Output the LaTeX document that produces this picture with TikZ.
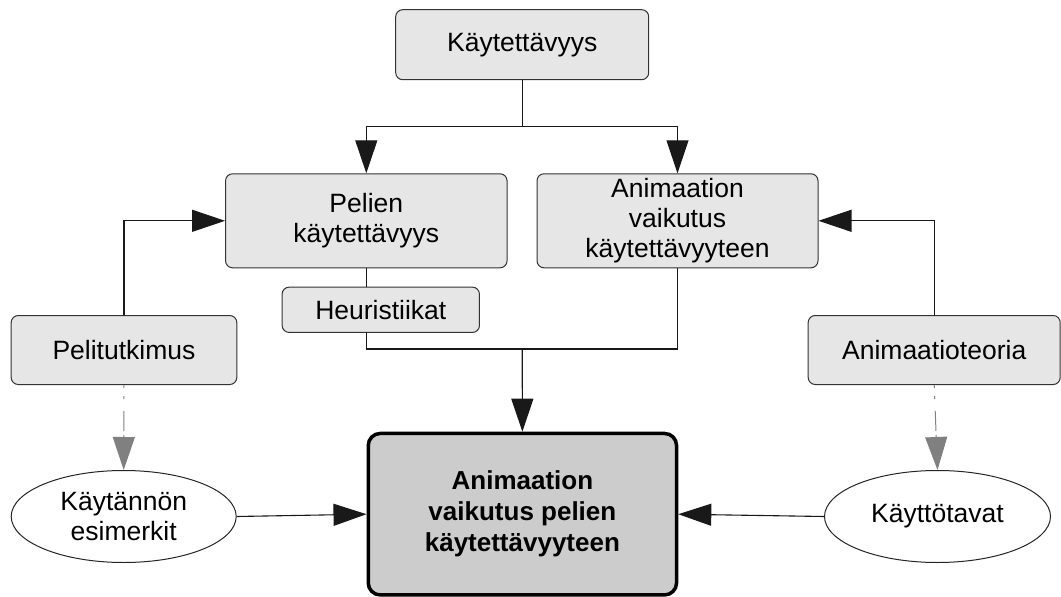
\documentclass[tikz,border=0pt]{standalone}
\usepackage{fontspec}
\setmainfont{Liberation Sans}
\usetikzlibrary{arrows.meta,shapes.geometric}
\definecolor{boxfill}{HTML}{E6E6E6}
\definecolor{mainfill}{HTML}{CCCCCC}
\definecolor{boxline}{HTML}{333333}
\definecolor{dashgray}{HTML}{808080}
\begin{document}
\begin{tikzpicture}[x=1pt,y=-1pt,
  every node/.style={font=\fontsize{26.5}{30}\selectfont, align=center, inner sep=0pt},
  gbox/.style={rectangle, draw=boxline, fill=boxfill, line width=1pt, rounded corners=7pt},
  mainbox/.style={rectangle, draw=black, fill=mainfill, line width=3.5pt, rounded corners=12pt,
    font=\fontsize{26}{31}\selectfont\bfseries},
  oval/.style={ellipse, draw=black!85, line width=1pt, fill=white},
  conn/.style={draw=black!90, line width=1.1pt},
  arr/.style={conn, -{Triangle[length=33pt,width=22pt]}},
  darr/.style={draw=dashgray, line width=1pt, dash pattern=on 3pt off 8pt on 3pt off 12pt on 20pt off 4pt,
    -{Triangle[length=33pt,width=22pt]}},
]
\useasboundingbox (0,0) rectangle (1061,597);

\node[gbox, minimum width=253pt, minimum height=70pt] (K) at (522.2,44.7) {Käytettävyys};
\node[gbox, minimum width=281.5pt, minimum height=94pt] (P) at (366.3,220.8) {Pelien\\käytettävyys};
\node[gbox, minimum width=281pt, minimum height=94pt] (A) at (677.5,220.8) {Animaation\\vaikutus\\käytettävyyteen};
\node[gbox, minimum width=197.3pt, minimum height=45.3pt] (H) at (380.8,309.8) {Heuristiikat};
\node[gbox, minimum width=225.6pt, minimum height=69pt] (PT) at (124,350) {Pelitutkimus};
\node[gbox, minimum width=252pt, minimum height=69pt] (AT) at (934.2,350) {Animaatioteoria};
\node[mainbox, minimum width=308.3pt, minimum height=161.5pt] (M) at (522.4,514.2) {Animaation\\vaikutus pelien\\käytettävyyteen};
\node[oval, minimum width=225pt, minimum height=92pt] (E1) at (123.7,516.5) {Käytännön\\esimerkit};
\node[oval, minimum width=226pt, minimum height=92pt] (E2) at (937.5,516.5) {Käyttötavat};

\coordinate (br) at (522.2,126.7);
\coordinate (col) at (522.2,349);

\draw[conn] (K.south) -- (br);
\draw[arr] (br) -| (P.north);
\draw[arr] (br) -| (A.north);

\draw[conn] (P.south) -- (P.south |- H.north);
\draw[conn] (P.south |- H.south) |- (A.south |- col) -- (A.south);
\draw[arr] (col) -- (M.north);

\draw[arr] (PT.north) |- (P.west);
\draw[arr] (AT.north) |- (A.east);

\draw[darr] (PT.south) -- (E1.north);
\draw[darr] (AT.south) -- (E2.north);

\draw[arr] (E1.east) -- (M.west);
\draw[arr] (E2.west) -- (M.east);
\end{tikzpicture}
\end{document}
